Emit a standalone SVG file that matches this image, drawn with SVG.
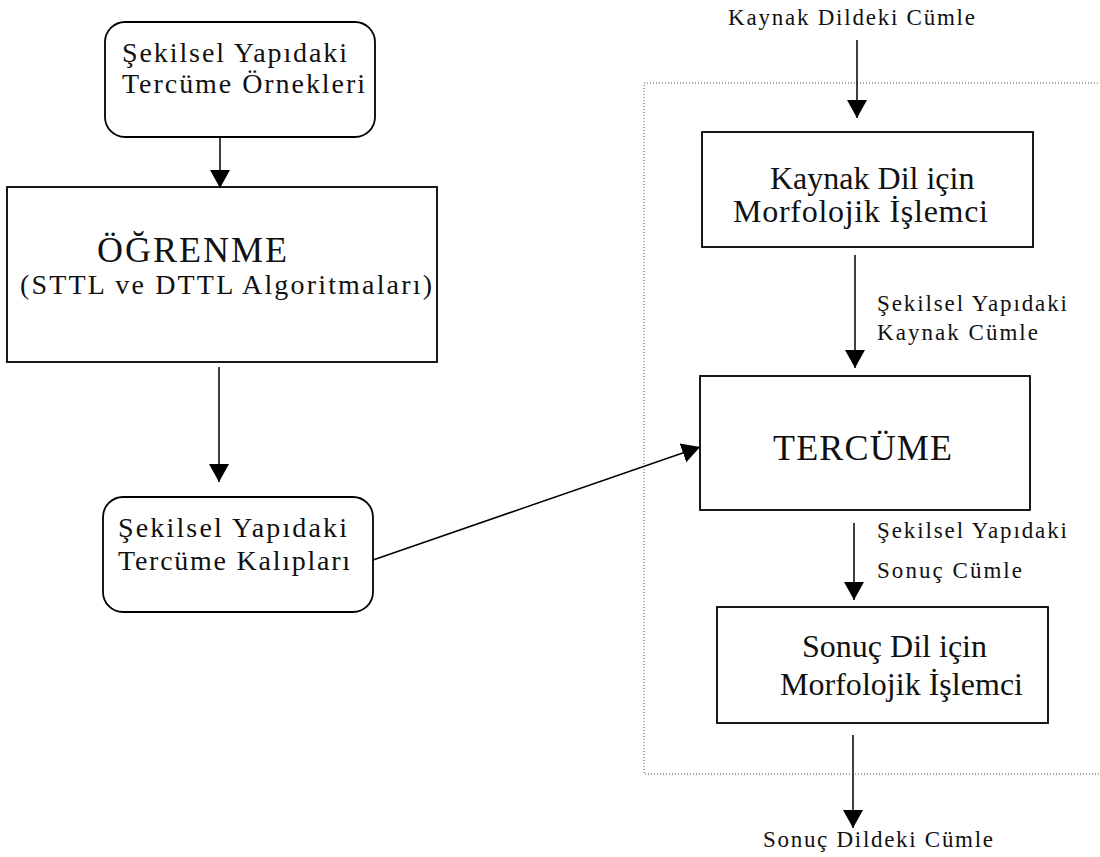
<svg xmlns="http://www.w3.org/2000/svg" width="1100" height="857" viewBox="0 0 1100 857">
  <style>
    .box { fill: #fff; stroke: #000; stroke-width: 1.8; }
    .frame { fill: none; stroke: #555; stroke-width: 1; stroke-dasharray: 1 2; }
    .edge { stroke: #000; stroke-width: 1.5; fill: none; }
    text { font-family: "Liberation Serif", "Times New Roman", serif; fill: #111; }
    .t28 { font-size: 28px; }
    .t32 { font-size: 32px; }
    .lbl { font-size: 23px; }
    .big { font-size: 36px; }
  </style>
  <defs>
    <marker id="arrow" markerUnits="userSpaceOnUse" markerWidth="18" markerHeight="20" refX="18" refY="10" orient="auto">
      <path d="M0,0 L18,10 L0,20 Z" fill="#000"/>
    </marker>
  </defs>

  <!-- dotted frame round the translation stage -->
  <rect class="frame" x="644" y="83" width="470" height="691"/>

  <g id="ornekler">
    <rect class="box" x="105" y="22" width="270" height="115" rx="20"/>
    <text class="t28" x="122" y="62" textLength="225" lengthAdjust="spacing">Şekilsel Yapıdaki</text>
    <text class="t28" x="122" y="93" textLength="243" lengthAdjust="spacing">Tercüme Örnekleri</text>
  </g>

  <g id="ogrenme">
    <rect class="box" x="7" y="187" width="430" height="175"/>
    <text class="big" x="97" y="262" textLength="190" lengthAdjust="spacing">ÖĞRENME</text>
    <text class="t28" x="20" y="294" textLength="412" lengthAdjust="spacing">(STTL ve DTTL Algoritmaları)</text>
  </g>

  <g id="kaliplar">
    <rect class="box" x="103" y="497" width="270" height="115" rx="20"/>
    <text class="t28" x="118" y="537" textLength="229" lengthAdjust="spacing">Şekilsel Yapıdaki</text>
    <text class="t28" x="118" y="570" textLength="232" lengthAdjust="spacing">Tercüme Kalıpları</text>
  </g>

  <g id="kaynak-girdi">
    <text class="lbl" x="728" y="25" textLength="247" lengthAdjust="spacing">Kaynak Dildeki Cümle</text>
  </g>

  <g id="kaynak-morf">
    <rect class="box" x="702" y="132" width="331" height="115"/>
    <text class="t32" x="770" y="189">Kaynak Dil için</text>
    <text class="t32" x="733" y="222" textLength="255" lengthAdjust="spacing">Morfolojik İşlemci</text>
  </g>

  <g id="tercume">
    <rect class="box" x="700" y="376" width="330" height="134"/>
    <text class="big" x="773" y="460" textLength="179" lengthAdjust="spacing">TERCÜME</text>
  </g>

  <g id="sonuc-morf">
    <rect class="box" x="717" y="607" width="331" height="116"/>
    <text class="t32" x="802" y="657" textLength="185" lengthAdjust="spacing">Sonuç Dil için</text>
    <text class="t32" x="780" y="695" textLength="243" lengthAdjust="spacing">Morfolojik İşlemci</text>
  </g>

  <g id="sonuc-cikti">
    <text class="lbl" x="763" y="847" textLength="230" lengthAdjust="spacing">Sonuç Dildeki Cümle</text>
  </g>

  <g id="connectors">
    <line class="edge" x1="220" y1="137" x2="220" y2="188" marker-end="url(#arrow)"/>
    <line class="edge" x1="219" y1="367" x2="219" y2="482" marker-end="url(#arrow)"/>
    <line class="edge" x1="373" y1="560" x2="700" y2="447" marker-end="url(#arrow)"/>
    <line class="edge" x1="857" y1="40" x2="857" y2="118" marker-end="url(#arrow)"/>
    <line class="edge" x1="855" y1="255" x2="855" y2="368" marker-end="url(#arrow)"/>
    <line class="edge" x1="854" y1="523" x2="854" y2="600" marker-end="url(#arrow)"/>
    <line class="edge" x1="853" y1="735" x2="853" y2="828" marker-end="url(#arrow)"/>
    <text class="lbl" x="877" y="311" textLength="190" lengthAdjust="spacing">Şekilsel Yapıdaki</text>
    <text class="lbl" x="877" y="340" textLength="161" lengthAdjust="spacing">Kaynak Cümle</text>
    <text class="lbl" x="877" y="538" textLength="190" lengthAdjust="spacing">Şekilsel Yapıdaki</text>
    <text class="lbl" x="877" y="578" textLength="145" lengthAdjust="spacing">Sonuç Cümle</text>
  </g>
</svg>
